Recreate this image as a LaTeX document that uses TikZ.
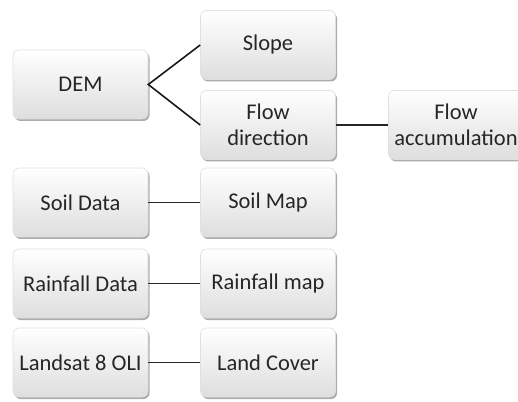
\documentclass[tikz,border=0pt]{standalone}
\usepackage{fontspec}
\setmainfont{Carlito}
\usetikzlibrary{shadows}
\tikzset{
  box/.style={draw=black!12, line width=0.6pt, rounded corners=6pt,
    minimum width=135pt, minimum height=69pt, align=center, inner xsep=1pt,
    top color=white, bottom color=black!13, text=black!85,
    font=\fontsize{22.5}{26}\selectfont,
    drop shadow={shadow xshift=1.5pt, shadow yshift=-2pt, opacity=0.5, fill=black!65}},
  link/.style={draw=black!85, line width=1.1pt},
  thick link/.style={draw=black!90, line width=1.6pt}
}
\begin{document}
\begin{tikzpicture}[x=1pt,y=1pt]
\useasboundingbox (0,0) rectangle (518,401);
\clip (0,0) rectangle (518,401);
\node[box] (dem) at (80.5,316.5) {DEM};
\node[box] (slope) at (268,356) {Slope};
\node[box] (flowdir) at (268,276) {Flow\\direction};
\node[box] (flowacc) at (456,276) {Flow\\accumulation};
\node[box] (soil) at (80.5,198.5) {Soil Data};
\node[box] (soilmap) at (268,198.5) {Soil Map};
\node[box] (rain) at (80.5,117.5) {Rainfall Data};
\node[box] (rainmap) at (268,117.5) {Rainfall map};
\node[box] (landsat) at (80.5,38.5) {Landsat 8 OLI};
\node[box] (landcover) at (268,38.5) {Land Cover};
\draw[thick link] (slope.west) -- (dem.east) -- (flowdir.west);
\draw[link] (flowdir.east) -- (flowacc.west);
\draw[link] (soil.east) -- (soilmap.west);
\draw[link] (rain.east) -- (rainmap.west);
\draw[link] (landsat.east) -- (landcover.west);
\end{tikzpicture}
\end{document}
